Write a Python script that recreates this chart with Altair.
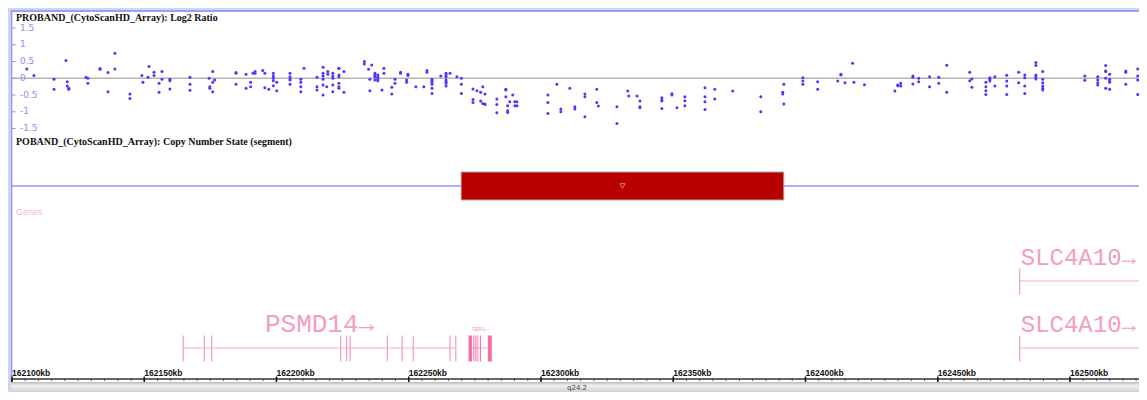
import altair as alt
import pandas as pd

# ---------------- data ----------------
# Log2 ratio probes: genomic position (kb) and the probe values found at that position
LOG2_POS_KB = [
    162105.6, 162108.3, 162115.9, 162120.4, 162120.9, 162121.5, 162128.0, 162128.7,
    162133.3, 162136.3, 162138.9, 162144.6, 162149.1, 162149.5, 162151.4, 162151.8,
    162153.7, 162155.6, 162156.7, 162159.7, 162167.3, 162174.5, 162174.8, 162175.9,
    162176.6, 162184.7, 162188.5, 162190.2, 162191.1, 162191.9, 162194.8, 162195.6,
    162197.1, 162198.8, 162200.1, 162205.1, 162209.2, 162210.4, 162215.3, 162217.6,
    162219.0, 162219.4, 162221.3, 162223.6, 162225.5, 162233.2, 162234.8, 162235.3,
    162236.0, 162237.2, 162238.3, 162239.9, 162240.6, 162243.6, 162244.8, 162246.9,
    162249.2, 162249.7, 162252.7, 162255.7, 162256.9, 162258.8, 162262.1, 162264.1,
    162265.6, 162268.2, 162269.9, 162274.3, 162275.8, 162277.2, 162278.0, 162278.8,
    162283.3, 162286.7, 162287.4, 162288.2, 162289.3, 162290.1, 162290.9, 162302.6,
    162306.0, 162307.5, 162310.9, 162312.8, 162316.6, 162321.1, 162321.7, 162328.7,
    162332.8, 162333.2, 162336.3, 162337.4, 162345.7, 162349.5, 162351.4, 162354.4,
    162362.0, 162365.7, 162372.5, 162383.1, 162391.4, 162391.8, 162399.0, 162404.6,
    162412.2, 162413.4, 162414.9, 162417.8, 162418.3, 162422.3, 162433.8, 162434.9,
    162436.0, 162440.6, 162442.8, 162446.9, 162450.4, 162453.4, 162462.1, 162462.9,
    162468.2, 162469.7, 162471.6, 162476.1, 162480.6, 162482.9, 162487.1, 162489.7,
    162505.6, 162510.5, 162513.5, 162515.0, 162521.1, 162525.6,
]
LOG2_VALUES = [
    [0.28], [0.08], [-0.03, -0.33], [0.53], [-0.1, -0.23], [-0.3, -0.33], [0.03], [0.0, -0.15],
    [0.29, 0.27], [0.17, -0.4], [0.75, 0.28], [-0.47, -0.6], [0.08], [-0.12], [0.03], [0.35],
    [0.08, 0.18], [-0.15, -0.42], [0.2, -0.03], [-0.03, -0.07, -0.32], [0.03, -0.18, -0.36], [0.0], [-0.25, -0.3], [0.2, -0.12, -0.4],
    [-0.05], [0.17, 0.15, -0.18], [0.12, -0.3], [-0.12, -0.25], [0.15], [0.2, 0.15], [0.23], [0.15, -0.28],
    [-0.33], [0.15, 0.07, 0.0, -0.07, -0.22], [-0.12, -0.37], [0.15, 0.05, -0.02, -0.05, -0.18], [-0.03, -0.12, -0.25, -0.4], [0.3], [0.03, -0.25, -0.35], [0.33, 0.15, 0.07, -0.03, -0.2, -0.5],
    [-0.25], [0.2, 0.12], [0.15, 0.07, 0.0, -0.2, -0.4], [0.3, 0.29, 0.1, 0.05, -0.15, -0.25, -0.3], [0.2, -0.42], [0.5, 0.43], [0.27], [-0.03, -0.37],
    [0.4], [0.1, 0.15, 0.05, -0.05], [0.1, 0.03, -0.03, -0.07], [-0.35], [0.3, 0.15], [-0.27, -0.47], [-0.03, -0.15], [0.15, 0.18],
    [-0.05, -0.12], [0.08, 0.12], [-0.25], [-0.25], [0.23, 0.18], [-0.12, -0.07, -0.18, -0.3, -0.45, -0.03], [0.07], [0.15, 0.1, 0.05, -0.05, -0.1, -0.23, -0.15],
    [0.15], [0.05], [0.0, -0.18, -0.45], [-0.32, -0.63, -0.72], [-0.37], [-0.42, -0.68], [-0.75, -0.25], [-0.47, -0.78, -0.77],
    [-0.62, -0.78, -1.03], [-0.33, -0.35, -0.55], [-0.82, -0.97, -1.02], [-0.7], [-0.5], [-0.7, -0.82], [-0.7, -0.82], [-0.5, -0.72, -1.05],
    [-0.18], [-0.92, -1.0], [-0.3], [-0.85, -0.92], [-0.47, -0.55, -1.15], [-0.33, -0.72], [-0.83], [-0.85, -1.35],
    [-0.38], [-0.53], [-0.53], [-0.68, -0.85, -0.88], [-0.58, -0.65, -0.68, -0.9], [-0.5, -0.46], [-0.88], [-0.55, -0.67, -0.82],
    [-0.28, -0.55, -0.7, -0.93], [-0.33, -0.62], [-0.38], [-0.55, -1.0], [-0.42, -0.47], [-0.18, -0.77], [0.02, -0.08, -0.18], [-0.1, -0.33],
    [-0.08], [0.12, 0.1], [-0.13], [0.45], [-0.12], [-0.19], [-0.38], [-0.22, -0.2],
    [-0.15, -0.23], [-0.17, 0.07, 0.03], [0.0, -0.1], [0.05, -0.25], [0.03, -0.15], [0.39, -0.42], [0.18, -0.07], [-0.02, -0.27],
    [-0.25, -0.12, -0.37, -0.48], [0.02, -0.03, -0.08], [0.05, -0.23], [-0.08, 0.09, -0.23, -0.48], [0.18, -0.13], [0.1, 0.02, -0.23, -0.45], [0.38, 0.47, 0.1, 0.05, -0.02], [0.2, -0.03, -0.13, -0.23, -0.3, -0.35],
    [-0.06, 0.07], [0.05, -0.05, -0.13, -0.2], [0.22, 0.2, 0.38, 0.0, -0.3], [-0.08, -0.12, 0.12, -0.03, -0.33], [0.18, 0.22, -0.18], [0.28, 0.07, -0.05, -0.48],
]

Y_TICKS = [1.5, 1, 0.5, 0, -0.5, -1, -1.5]
Y_TICK_LABELS = ["1.5", "1", "0.5", "0", "-0.5", "-1", "-1.5"]

# copy number segment (kb)
SEG_START_KB = [162269.8]
SEG_END_KB = [162391.8]

# genes
PSMD14_START, PSMD14_END = 162164.75, 162267.8
PSMD14_EXONS = [162164.75, 162172.7, 162175.5, 162224.25, 162226.5, 162227.8,
                162241.9, 162247.5, 162251.7, 162265.6, 162267.8]
TBR1_START, TBR1_END = 162272.6, 162281.4
TBR1_EXON_STARTS = [162272.6, 162274.4, 162275.2, 162276.0, 162276.9, 162279.9]
TBR1_EXON_ENDS = [162273.9, 162274.8, 162275.6, 162276.3, 162277.3, 162281.4]
SLC4A10_START, SLC4A10_END = 162481.0, 162850.0

MAJOR_TICKS_KB = [162100, 162150, 162200, 162250, 162300, 162350, 162400, 162450, 162500]
MAJOR_TICK_LABELS = ["162100kb", "162150kb", "162200kb", "162250kb", "162300kb",
                     "162350kb", "162400kb", "162450kb", "162500kb"]
MINOR_TICKS_KB = list(range(162100, 162530, 5))
CYTOBAND = ["q24.2"]

# ---------------- chart ----------------
W, H = 1131, 384
xscale = alt.Scale(domain=[162098.49, 162526.09], zero=False, nice=False)
yscale = alt.Scale(domain=[-1.5, 1.5], range=[120.55, 20.05], zero=False, nice=False)


def X(f):
    return alt.X(f"{f}:Q", scale=xscale, axis=None)


def X2(f):
    return alt.X2(f"{f}:Q")


one = pd.DataFrame({"a": [0]})

pts = pd.DataFrame([(p, v) for p, vals in zip(LOG2_POS_KB, LOG2_VALUES) for v in vals],
                   columns=["kb", "log2"])
yt = pd.DataFrame({"v": Y_TICKS, "label": Y_TICK_LABELS})
seg = pd.DataFrame({"start": SEG_START_KB, "end": SEG_END_KB})
major = pd.DataFrame({"kb": MAJOR_TICKS_KB, "label": MAJOR_TICK_LABELS})
minor = pd.DataFrame({"kb": MINOR_TICKS_KB})

PURPLE = "#a184f2"
PINK = "#f59cc3"
PINK_LINE = "#f7a8cb"

layers = []

# white panel
layers.append(alt.Chart(one).mark_rect(color="white").encode(
    x=alt.value(3), x2=alt.value(W), y=alt.value(3), y2=alt.value(374)))
# ideogram band
grad = alt.Gradient(gradient="linear", x1=0, x2=0, y1=0, y2=1,
                    stops=[alt.GradientStop(color="#b8b8b8", offset=0),
                           alt.GradientStop(color="#efefef", offset=0.35),
                           alt.GradientStop(color="#d2d2d2", offset=1)])
layers.append(alt.Chart(one).mark_rect(color=grad).encode(
    x=alt.value(3), x2=alt.value(W), y=alt.value(374), y2=alt.value(H)))
# borders
layers.append(alt.Chart(one).mark_rule(color="#9d9dff", strokeWidth=2).encode(
    x=alt.value(3), x2=alt.value(W), y=alt.value(3)))
layers.append(alt.Chart(one).mark_rule(color="#9a94ff", strokeWidth=1.5).encode(
    x=alt.value(3.6), y=alt.value(3), y2=alt.value(374)))

# titles
layers.append(alt.Chart(one).mark_text(
    text="PROBAND_(CytoScanHD_Array): Log2 Ratio", font="Liberation Serif",
    fontWeight="bold", fontSize=10, align="left", baseline="alphabetic", color="#111111"
).encode(x=alt.value(8), y=alt.value(12.5)))
layers.append(alt.Chart(one).mark_text(
    text="POBAND_(CytoScanHD_Array): Copy Number State (segment)", font="Liberation Serif",
    fontWeight="bold", fontSize=10, align="left", baseline="alphabetic", color="#111111"
).encode(x=alt.value(8), y=alt.value(136.5)))
layers.append(alt.Chart(one).mark_text(
    text="Genes", font="Liberation Sans", fontSize=9, align="left", baseline="alphabetic",
    color="#f7b3cf").encode(x=alt.value(8), y=alt.value(206.5)))

# log2 panel
layers.append(alt.Chart(pd.DataFrame({"v": [0]})).mark_rule(color="#b4b4b4", strokeWidth=1.6).encode(
    y=alt.Y("v:Q", scale=yscale, axis=None), x=alt.value(4), x2=alt.value(W)))
layers.append(alt.Chart(yt).mark_rule(color=PURPLE, strokeWidth=1).encode(
    y=alt.Y("v:Q", scale=yscale, axis=None), x=alt.value(3.5), x2=alt.value(7.5)))
layers.append(alt.Chart(yt).mark_text(
    font="DejaVu Sans", fontSize=9, align="left", baseline="middle", dy=-0.5, color=PURPLE
).encode(y=alt.Y("v:Q", scale=yscale, axis=None), x=alt.value(12), text="label:N"))
layers.append(alt.Chart(pts).mark_circle(size=9, color="#5533ff", opacity=1).encode(
    x=X("kb"), y=alt.Y("log2:Q", scale=yscale, axis=None)))

# copy number segment panel
layers.append(alt.Chart(one).mark_rule(color="#a08cff", strokeWidth=1.5).encode(
    x=alt.value(3.6), x2=alt.value(W), y=alt.value(178)))
layers.append(alt.Chart(seg).mark_rect(color="#b80000", stroke="#a8a8a8", strokeWidth=1).encode(
    x=X("start"), x2=X2("end"), y=alt.value(164), y2=alt.value(192)))
layers.append(alt.Chart(seg).transform_calculate(mid="(datum.start + datum.end) / 2").mark_point(
    shape="triangle-down", filled=False, size=28, color="#f3b4b4", strokeWidth=1
).encode(x=X("mid"), y=alt.value(178)))

# genes: PSMD14 (row 2)
psmd = pd.DataFrame({"start": [PSMD14_START], "end": [PSMD14_END], "name": ["PSMD14\u2192"]})
layers.append(alt.Chart(psmd).mark_rule(color=PINK_LINE, strokeWidth=1).encode(
    x=X("start"), x2=X2("end"), y=alt.value(340)))
layers.append(alt.Chart(pd.DataFrame({"kb": PSMD14_EXONS})).mark_rule(color="#f592bd", strokeWidth=1.1).encode(
    x=X("kb"), y=alt.value(327.5), y2=alt.value(353.5)))
layers.append(alt.Chart(psmd).transform_calculate(mid="(datum.start + datum.end) / 2").mark_text(
    font="Liberation Mono", fontSize=26, align="center", baseline="alphabetic", color=PINK
).encode(x=X("mid"), y=alt.value(323.5), text="name:N"))

# TBR1 (row 2)
tbr = pd.DataFrame({"start": [TBR1_START], "end": [TBR1_END], "name": ["TBR1\u2192"]})
layers.append(alt.Chart(tbr).mark_rule(color=PINK_LINE, strokeWidth=1).encode(
    x=X("start"), x2=X2("end"), y=alt.value(340)))
layers.append(alt.Chart(pd.DataFrame({"s": TBR1_EXON_STARTS, "e": TBR1_EXON_ENDS})).mark_rect(
    color="#f06fa6").encode(x=X("s"), x2=X2("e"), y=alt.value(327.5), y2=alt.value(353.5)))
layers.append(alt.Chart(tbr).transform_calculate(mid="(datum.start + datum.end) / 2").mark_text(
    font="Liberation Mono", fontSize=6, align="center", baseline="alphabetic", color=PINK
).encode(x=X("mid"), y=alt.value(322.5), text="name:N"))

# SLC4A10 (two transcripts, rows 1 and 2)
slc = pd.DataFrame({"start": [SLC4A10_START], "end": [SLC4A10_END], "name": ["SLC4A10\u2192"]})
for line_y, text_y in [(273, 257), (340, 323.5)]:
    layers.append(alt.Chart(slc).mark_rule(color=PINK_LINE, strokeWidth=1, clip=True).encode(
        x=X("start"), x2=X2("end"), y=alt.value(line_y)))
    layers.append(alt.Chart(slc).mark_rule(color="#f592bd", strokeWidth=1.1).encode(
        x=X("start"), y=alt.value(line_y - 12.5), y2=alt.value(line_y + 13.5)))
    layers.append(alt.Chart(slc).mark_text(
        font="Liberation Mono", fontSize=24, align="left", baseline="alphabetic", color=PINK, dx=1
    ).encode(x=X("start"), y=alt.value(text_y), text="name:N"))

# genome ruler
layers.append(alt.Chart(one).mark_rule(color="#333333", strokeWidth=1.5).encode(
    x=alt.value(3.6), x2=alt.value(W), y=alt.value(371)))
layers.append(alt.Chart(minor).mark_rule(color="#555555", strokeWidth=1, clip=True).encode(
    x=X("kb"), y=alt.value(370), y2=alt.value(373)))
layers.append(alt.Chart(major).mark_rule(color="#111111", strokeWidth=1.5).encode(
    x=X("kb"), y=alt.value(368.5), y2=alt.value(374)))
layers.append(alt.Chart(major).mark_text(
    font="Liberation Sans", fontWeight="bold", fontSize=8.5, align="left", baseline="middle",
    color="#111111").encode(x=X("kb"), y=alt.value(365), text="label:N"))
layers.append(alt.Chart(pd.DataFrame({"band": CYTOBAND})).mark_text(
    font="DejaVu Sans", fontSize=7, align="center", baseline="middle", color="#444444"
).encode(x=alt.value(569), y=alt.value(380), text="band:N"))

chart = alt.layer(*layers).properties(
    width=W, height=H, padding=0,
    autosize=alt.AutoSizeParams(type="none"),
    background="#c9d9ef",
).configure_view(strokeWidth=0)

chart.save("out.html", embed_options={"renderer": "svg", "actions": False})
